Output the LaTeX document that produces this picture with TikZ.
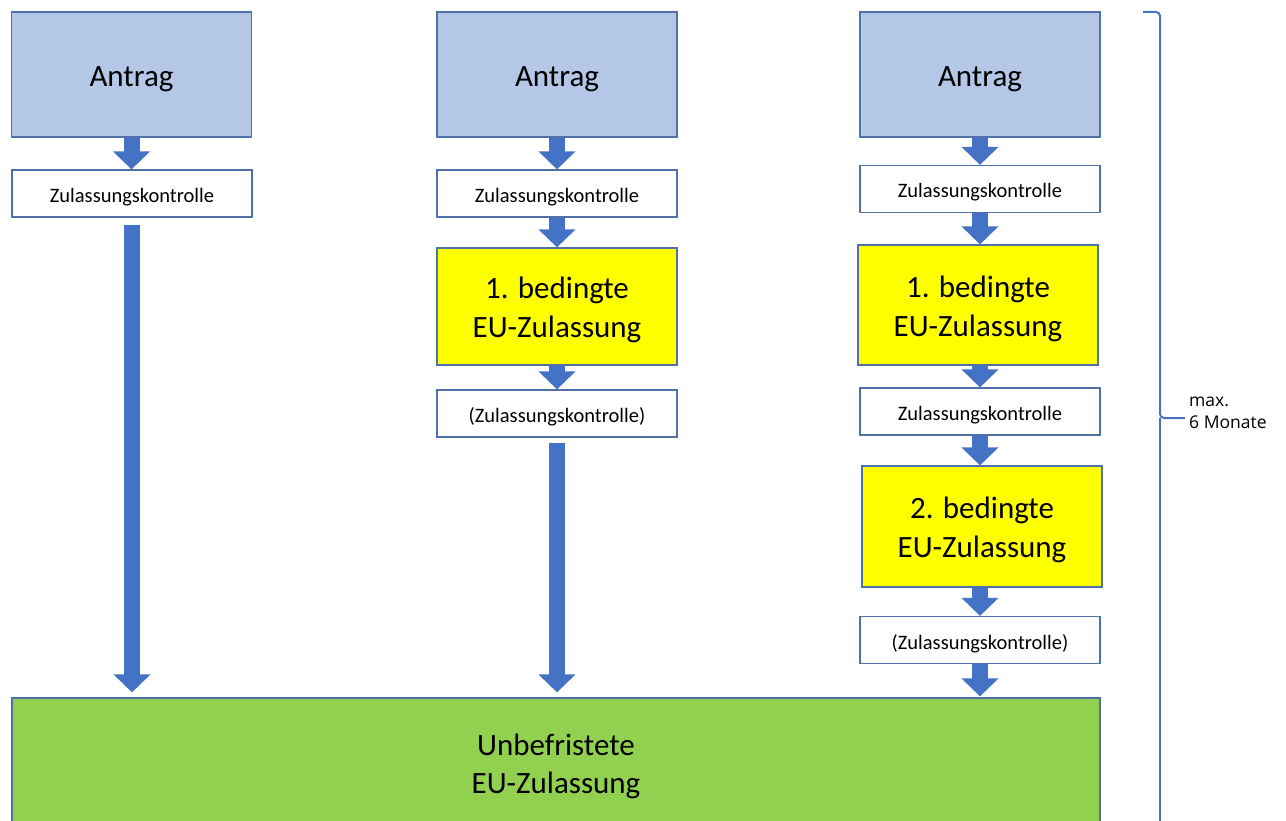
\documentclass[tikz,border=0pt]{standalone}
\usepackage{fontspec}
\setmainfont{Carlito}
\newfontfamily\labelfont{Open Sans}
\usetikzlibrary{arrows.meta,calc}
\definecolor{boxblue}{HTML}{B4C7E7}
\definecolor{edge}{HTML}{4F71A8}
\definecolor{arrowblue}{HTML}{4472C4}
\definecolor{ylw}{HTML}{FFFF00}
\definecolor{grn}{HTML}{92D050}
\newcommand\dn[2][3.5pt]{\raisebox{-#1}[\height][\depth]{#2}}
\begin{document}
\begin{tikzpicture}[x=1pt,y=-1pt,
  base/.style={draw=edge, line width=1.2pt, rectangle, inner sep=0pt, align=center, text=black},
  antrag/.style={base, fill=boxblue, minimum width=240pt, minimum height=125pt, font=\fontsize{31}{39}\selectfont},
  check/.style={base, fill=white, minimum width=240pt, minimum height=47pt, font=\fontsize{20.5}{25}\selectfont},
  cond/.style={base, fill=ylw, minimum width=240pt, minimum height=117pt, font=\fontsize{31}{39}\selectfont},
  final/.style={base, fill=grn, minimum width=1088pt, minimum height=130pt, font=\fontsize{31}{38}\selectfont},
  flow/.style={draw=arrowblue, line width=16pt, -{Triangle[width=36pt,length=18pt]}},
  bracestyle/.style={draw=arrowblue, line width=2pt, rounded corners=4pt},
]
\useasboundingbox (0,0) rectangle (1286,821);

% column 1
\node[antrag] (a1) at (131.5,74.5) {\dn[5pt]{Antrag}};
\node[check] (k1) at (132,193.5) {\dn{Zulassungskontrolle}};
% column 2
\node[antrag] (a2) at (557,74.5) {\dn[5pt]{Antrag}};
\node[check] (k2) at (557,193.5) {\dn{Zulassungskontrolle}};
\node[cond] (b2) at (557,306.5) {\dn{1. bedingte}\\\dn{EU-Zulassung}};
\node[check] (r2) at (557,413.5) {\dn{(Zulassungskontrolle)}};
% column 3
\node[antrag] (a3) at (980,74.5) {\dn[5pt]{Antrag}};
\node[check] (k3) at (980,189) {\dn{Zulassungskontrolle}};
\node[cond, minimum height=120pt] (b3) at (978,305) {\dn{1. bedingte}\\\dn{EU-Zulassung}};
\node[check] (m3) at (980,411.5) {\dn{Zulassungskontrolle}};
\node[cond, minimum height=121pt] (c3) at (982,526.5) {\dn{2. bedingte}\\\dn{EU-Zulassung}};
\node[check] (r3) at (980,640) {\dn{(Zulassungskontrolle)}};
% final
\node[final] (u) at (556,763) {\dn[3pt]{Unbefristete}\\\dn[3pt]{EU-Zulassung}};

% arrows column 1
\draw[flow] (a1.south) -- (a1.south |- k1.north);
\draw[flow, shorten <=7pt, shorten >=5pt] (k1.south) -- (k1.south |- u.north);
% arrows column 2
\draw[flow] (a2.south) -- (k2.north);
\draw[flow] (k2.south) -- (b2.north);
\draw[flow] (b2.south) -- (r2.north);
\draw[flow, shorten <=5pt, shorten >=5pt] (r2.south) -- (r2.south |- u.north);
% arrows column 3
\draw[flow] (a3.south) -- (k3.north);
\draw[flow] (k3.south) -- (k3.south |- b3.north);
\draw[flow] (m3.north |- b3.south) -- (m3.north);
\draw[flow] (m3.south) -- (m3.south |- c3.north);
\draw[flow] (r3.north |- c3.south) -- (r3.north);
\draw[flow, shorten >=1pt] (r3.south) -- (r3.south |- u.north);

% brace
\coordinate (bt) at (1143,12);
\coordinate (bc) at (1160,418);
\coordinate (bm) at (1185,418);
\coordinate (bb) at (1160,832);
\draw[bracestyle] (bt) -- (bt -| bc) -- (bc) -- (bm);
\draw[bracestyle] (bc) -- (bb);
\node[anchor=west, align=left, inner sep=0pt, font=\labelfont\fontsize{17.5}{22}\selectfont] (lbl) at (1189,413) {max.\\6 Monate};
\end{tikzpicture}
\end{document}
